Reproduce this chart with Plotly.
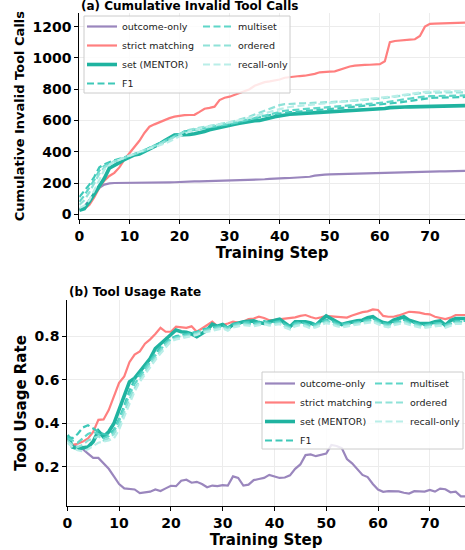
import plotly.graph_objects as go

steps = list(range(78))

names = ["outcome-only", "strict matching", "set (MENTOR)", "F1", "multiset", "ordered", "recall-only"]

# (a) Cumulative invalid tool calls
cum_outcome = [30, 50, 90, 130, 170, 190, 198, 200, 200, 200, 200, 200, 201, 201, 202, 202, 202, 203, 204, 205,
               207, 210, 211, 211, 211, 212, 212, 212, 212, 213, 213, 214, 215, 218, 220, 221, 222, 224, 226, 229,
               230, 231, 232, 233, 234, 236, 240, 247, 252, 254, 255, 256, 257, 258, 258, 260, 261, 262, 263, 264,
               265, 266, 268, 270, 271, 271, 272, 272, 273, 273, 274, 274, 275, 275, 276, 276, 277, 277]
cum_strict = [30, 35, 60, 110, 170, 215, 245, 265, 300, 350, 390, 430, 470, 520, 560, 575, 590, 603, 615, 624,
              630, 634, 635, 636, 655, 675, 680, 688, 730, 745, 752, 763, 775, 788, 800, 822, 832, 845, 850, 855,
              862, 873, 878, 882, 884, 886, 890, 898, 908, 912, 912, 914, 925, 938, 945, 950, 954, 955, 956, 958,
              960, 978, 1100, 1108, 1112, 1115, 1117, 1119, 1140, 1200, 1218, 1219, 1220, 1221, 1222, 1223, 1224, 1225]
cum_set = [25, 35, 80, 130, 180, 230, 295, 310, 330, 350, 365, 380, 385, 400, 420, 435, 450, 470, 490, 507,
           508, 508, 510, 515, 520, 530, 540, 548, 555, 560, 568, 575, 582, 588, 592, 598, 600, 605, 615, 624,
           630, 636, 640, 642, 644, 645, 646, 648, 652, 655, 657, 658, 660, 661, 662, 664, 665, 667, 668, 670,
           672, 676, 682, 685, 686, 686, 687, 688, 690, 692, 694, 694, 693, 693, 694, 694, 694, 695]
cum_f1 = [110, 150, 190, 240, 300, 320, 335, 345, 355, 365, 375, 385, 395, 410, 425, 440, 455, 470, 490, 505,
          520, 530, 535, 540, 545, 550, 555, 560, 565, 570, 575, 582, 590, 598, 605, 612, 620, 628, 635, 640,
          645, 650, 653, 655, 657, 658, 660, 663, 666, 670, 673, 676, 679, 682, 685, 688, 690, 692, 695, 698,
          700, 703, 706, 710, 715, 720, 725, 730, 735, 740, 743, 745, 746, 747, 748, 749, 750, 750]
cum_multiset = [80, 120, 170, 220, 280, 310, 325, 340, 352, 362, 372, 382, 392, 405, 420, 435, 450, 468, 485, 500,
                515, 528, 535, 540, 545, 550, 555, 560, 565, 570, 576, 584, 592, 600, 608, 616, 624, 632, 640, 648,
                655, 662, 665, 668, 670, 672, 675, 678, 681, 684, 687, 690, 692, 694, 696, 698, 700, 703, 706, 709,
                712, 716, 720, 725, 730, 735, 740, 745, 750, 753, 755, 756, 757, 758, 759, 760, 760, 760]
cum_ordered = [60, 90, 140, 200, 260, 300, 320, 338, 350, 360, 372, 385, 398, 410, 422, 435, 448, 462, 478, 495,
               512, 528, 540, 548, 555, 560, 565, 570, 576, 582, 588, 596, 605, 615, 625, 638, 650, 662, 675, 688,
               698, 704, 707, 708, 709, 710, 711, 712, 713, 714, 716, 718, 720, 722, 724, 726, 728, 730, 733, 736,
               740, 744, 748, 752, 757, 762, 767, 772, 776, 778, 778, 779, 779, 780, 780, 780, 780, 780]
cum_recall = [40, 55, 90, 150, 220, 285, 315, 335, 350, 362, 375, 388, 398, 408, 418, 428, 440, 452, 466, 482,
              500, 515, 530, 540, 550, 556, 562, 568, 574, 580, 586, 592, 600, 608, 618, 628, 638, 648, 656, 664,
              672, 680, 686, 690, 694, 697, 700, 703, 706, 709, 712, 715, 718, 721, 724, 727, 730, 733, 736, 739,
              742, 746, 750, 755, 760, 765, 770, 775, 780, 783, 785, 786, 786, 787, 787, 787, 788, 788]

# (b) Tool usage rate
use_outcome = [0.33, 0.30, 0.29, 0.28, 0.26, 0.24, 0.24, 0.215, 0.19, 0.155, 0.12, 0.10, 0.098, 0.095, 0.078, 0.08,
               0.085, 0.095, 0.088, 0.10, 0.112, 0.11, 0.135, 0.14, 0.126, 0.13, 0.12, 0.105, 0.113, 0.11, 0.115,
               0.113, 0.155, 0.148, 0.113, 0.117, 0.138, 0.143, 0.148, 0.162, 0.155, 0.148, 0.15, 0.16, 0.19, 0.21,
               0.253, 0.256, 0.248, 0.255, 0.26, 0.30, 0.295, 0.285, 0.235, 0.215, 0.19, 0.162, 0.152, 0.12, 0.095,
               0.084, 0.087, 0.085, 0.086, 0.08, 0.076, 0.087, 0.085, 0.085, 0.093, 0.085, 0.099, 0.096, 0.082,
               0.085, 0.063, 0.063]
use_strict = [0.33, 0.30, 0.305, 0.315, 0.33, 0.36, 0.415, 0.417, 0.46, 0.52, 0.585, 0.615, 0.68, 0.715, 0.73,
              0.765, 0.785, 0.81, 0.838, 0.82, 0.82, 0.843, 0.84, 0.838, 0.845, 0.82, 0.835, 0.85, 0.866, 0.845,
              0.85, 0.858, 0.866, 0.862, 0.866, 0.878, 0.881, 0.889, 0.883, 0.873, 0.875, 0.878, 0.88, 0.881,
              0.886, 0.893, 0.897, 0.888, 0.881, 0.886, 0.893, 0.891, 0.889, 0.887, 0.885, 0.895, 0.904, 0.91,
              0.914, 0.923, 0.92, 0.893, 0.889, 0.889, 0.895, 0.905, 0.912, 0.91, 0.908, 0.902, 0.9, 0.889,
              0.883, 0.878, 0.885, 0.897, 0.897, 0.897]
use_set = [0.345, 0.29, 0.283, 0.287, 0.29, 0.315, 0.363, 0.337, 0.36, 0.398, 0.46, 0.52, 0.59, 0.607, 0.635,
           0.665, 0.697, 0.743, 0.765, 0.785, 0.81, 0.828, 0.82, 0.818, 0.81, 0.797, 0.812, 0.828, 0.855, 0.845,
           0.853, 0.835, 0.853, 0.86, 0.866, 0.868, 0.87, 0.862, 0.858, 0.866, 0.872, 0.878, 0.86, 0.843, 0.866,
           0.866, 0.866, 0.86, 0.85, 0.872, 0.893, 0.88, 0.866, 0.853, 0.86, 0.866, 0.87, 0.873, 0.885, 0.889,
           0.873, 0.862, 0.858, 0.873, 0.88, 0.889, 0.873, 0.866, 0.858, 0.858, 0.858, 0.866, 0.87, 0.85, 0.872,
           0.881, 0.881, 0.881]
use_f1 = [0.34, 0.33, 0.35, 0.38, 0.39, 0.375, 0.36, 0.35, 0.345, 0.37, 0.42, 0.48, 0.55, 0.6, 0.625, 0.655,
          0.69, 0.72, 0.75, 0.77, 0.79, 0.80, 0.805, 0.81, 0.815, 0.82, 0.83, 0.835, 0.84, 0.845, 0.85, 0.84,
          0.855, 0.86, 0.862, 0.865, 0.86, 0.865, 0.87, 0.86, 0.865, 0.87, 0.855, 0.845, 0.86, 0.865, 0.858,
          0.85, 0.855, 0.865, 0.875, 0.87, 0.86, 0.855, 0.86, 0.862, 0.865, 0.87, 0.875, 0.88, 0.87, 0.86, 0.855,
          0.865, 0.87, 0.875, 0.865, 0.86, 0.855, 0.85, 0.855, 0.86, 0.86, 0.85, 0.86, 0.87, 0.87, 0.87]
use_multiset = [0.33, 0.32, 0.31, 0.33, 0.35, 0.36, 0.35, 0.33, 0.34, 0.36, 0.41, 0.47, 0.53, 0.58, 0.615, 0.645,
                0.68, 0.71, 0.74, 0.765, 0.785, 0.795, 0.80, 0.805, 0.81, 0.815, 0.825, 0.83, 0.835, 0.84, 0.845,
                0.835, 0.85, 0.855, 0.86, 0.858, 0.855, 0.86, 0.865, 0.858, 0.86, 0.865, 0.85, 0.84, 0.855, 0.86,
                0.855, 0.845, 0.85, 0.86, 0.87, 0.865, 0.855, 0.85, 0.855, 0.86, 0.862, 0.866, 0.87, 0.875, 0.865,
                0.855, 0.85, 0.86, 0.865, 0.87, 0.862, 0.855, 0.85, 0.848, 0.852, 0.857, 0.858, 0.848, 0.857,
                0.866, 0.866, 0.866]
use_ordered = [0.32, 0.30, 0.29, 0.30, 0.32, 0.33, 0.34, 0.32, 0.33, 0.35, 0.39, 0.45, 0.51, 0.56, 0.6, 0.635,
               0.67, 0.70, 0.73, 0.76, 0.78, 0.79, 0.795, 0.80, 0.805, 0.81, 0.82, 0.825, 0.83, 0.835, 0.84, 0.83,
               0.845, 0.85, 0.855, 0.852, 0.85, 0.855, 0.86, 0.852, 0.855, 0.86, 0.845, 0.835, 0.85, 0.855, 0.85,
               0.84, 0.845, 0.855, 0.865, 0.86, 0.85, 0.845, 0.85, 0.855, 0.858, 0.862, 0.866, 0.87, 0.86, 0.85,
               0.845, 0.855, 0.86, 0.865, 0.857, 0.85, 0.845, 0.843, 0.847, 0.852, 0.853, 0.843, 0.852, 0.861,
               0.861, 0.861]
use_recall = [0.31, 0.29, 0.275, 0.27, 0.28, 0.295, 0.31, 0.315, 0.32, 0.33, 0.37, 0.43, 0.49, 0.545, 0.59, 0.625,
              0.66, 0.69, 0.72, 0.75, 0.775, 0.785, 0.79, 0.795, 0.80, 0.805, 0.815, 0.82, 0.825, 0.83, 0.835,
              0.825, 0.84, 0.845, 0.85, 0.848, 0.845, 0.85, 0.855, 0.848, 0.85, 0.855, 0.84, 0.83, 0.845, 0.85,
              0.845, 0.835, 0.84, 0.85, 0.86, 0.855, 0.845, 0.84, 0.845, 0.85, 0.853, 0.857, 0.861, 0.865, 0.855,
              0.845, 0.84, 0.85, 0.855, 0.86, 0.852, 0.845, 0.84, 0.838, 0.842, 0.847, 0.848, 0.838, 0.847, 0.856,
              0.856, 0.856]

x_ticks = [0, 10, 20, 30, 40, 50, 60, 70]
cum_ticks = [0, 200, 400, 600, 800, 1000, 1200]
use_ticks = [0.2, 0.4, 0.6, 0.8]

colors = ["#9a86bd", "#ff7f7f", "#1fb3a0", "#3ec8b8", "#5ed6c8", "#8fe2d8", "#b9eee8"]
widths = [2.2, 2.2, 3.6, 2.2, 2.2, 2.2, 2.2]
dashes = ["solid", "solid", "solid", "7px,3.5px", "7px,3.5px", "7px,3.5px", "7px,3.5px"]
# legend column: first four in column 1, last three in column 2
top_legends = ["legend", "legend", "legend", "legend", "legend3", "legend3", "legend3"]
bot_legends = ["legend2", "legend2", "legend2", "legend2", "legend4", "legend4", "legend4"]

cum_series = [cum_outcome, cum_strict, cum_set, cum_f1, cum_multiset, cum_ordered, cum_recall]
use_series = [use_outcome, use_strict, use_set, use_f1, use_multiset, use_ordered, use_recall]

W, H = 465, 550
FONT = "DejaVu Sans"
fig = go.Figure()

for i, name in enumerate(names):
    fig.add_trace(go.Scatter(x=steps, y=cum_series[i], mode="lines", name=name,
                             line=dict(color=colors[i], width=widths[i], dash=dashes[i]),
                             xaxis="x", yaxis="y", legend=top_legends[i]))
for i, name in enumerate(names):
    fig.add_trace(go.Scatter(x=steps, y=use_series[i], mode="lines", name=name,
                             line=dict(color=colors[i], width=widths[i], dash=dashes[i]),
                             xaxis="x2", yaxis="y2", legend=bot_legends[i]))

tickfont = dict(family=FONT, size=14, color="black", weight="bold")
common = dict(showline=True, linecolor="black", linewidth=1.2, ticks="outside", ticklen=4,
              tickwidth=1.1, tickcolor="black", showgrid=True, gridcolor="#ececec", gridwidth=1,
              zeroline=False, automargin=False, tickfont=tickfont, mirror=False)


def bold(size):
    return dict(family=FONT, size=size, color="black", weight="bold")


def legend_at(px, py):
    return dict(x=px / W, y=1 - py / H, xanchor="left", yanchor="top", orientation="v",
                bgcolor="rgba(0,0,0,0)", borderwidth=0, itemwidth=30, tracegroupgap=0,
                font=dict(family=FONT, size=9.5, color="#222222"))


def box(x0, y0, x1, y1):
    return dict(type="rect", xref="paper", yref="paper", x0=x0 / W, x1=x1 / W, y0=1 - y1 / H, y1=1 - y0 / H,
                fillcolor="rgba(255,255,255,0.82)", line=dict(color="#cccccc", width=1), layer="above")


fig.update_layout(
    width=W, height=H,
    margin=dict(l=0, r=0, t=0, b=0),
    paper_bgcolor="white", plot_bgcolor="white",
    font=dict(family=FONT),
    xaxis=dict(domain=[79.3 / W, 1], anchor="y", range=[0, 77], tickvals=x_ticks,
               title=dict(text="Training Step", font=bold(15), standoff=3), **common),
    yaxis=dict(domain=[1 - 219.3 / H, 1 - 13 / H], anchor="x", range=[-32, 1287], tickvals=cum_ticks,
               title=dict(text="Cumulative Invalid Tool Calls", font=bold(13), standoff=4), **common),
    xaxis2=dict(domain=[67.3 / W, 1], anchor="y2", range=[0, 76.8], tickvals=x_ticks,
                title=dict(text="Training Step", font=bold(15), standoff=3), **common),
    yaxis2=dict(domain=[1 - 506 / H, 1 - 300 / H], anchor="x2", range=[0.019, 0.966], tickvals=use_ticks,
                ticktext=[f"{v:.1f}" for v in use_ticks],
                title=dict(text="Tool Usage Rate", font=bold(15), standoff=4), **common),
    legend=legend_at(82, 12),
    legend3=legend_at(198, 12),
    legend2=legend_at(260, 369),
    legend4=legend_at(370, 369),
    shapes=[box(84, 16, 290, 93), box(262, 372, 463, 449)],
    annotations=[
        dict(text="(a) Cumulative Invalid Tool Calls", xref="paper", yref="paper", x=79 / W, y=1 - 6 / H,
             xanchor="left", yanchor="middle", showarrow=False, font=bold(12)),
        dict(text="(b) Tool Usage Rate", xref="paper", yref="paper", x=67 / W, y=1 - 292 / H,
             xanchor="left", yanchor="middle", showarrow=False, font=bold(12)),
    ],
)

fig.write_html("out.html", config={"displayModeBar": False},
               post_script="document.body.style.margin='0';document.body.style.overflow='hidden';")
